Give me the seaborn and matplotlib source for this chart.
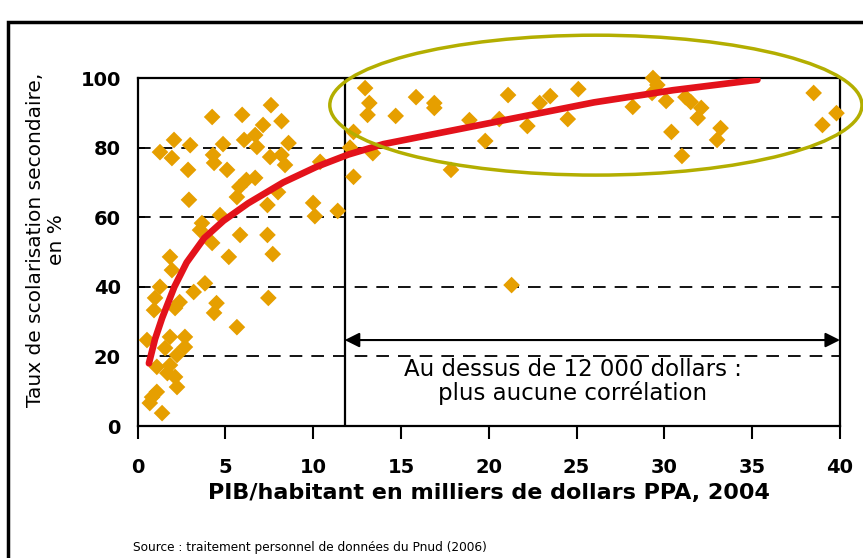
import matplotlib
matplotlib.use("Agg")
import matplotlib.pyplot as plt
from matplotlib.patches import Ellipse, Rectangle
import seaborn as sns

# GDP per head (thousands of PPP dollars, 2004) and secondary school enrolment (%)
gdp = [4.25, 5.96, 2.08, 3.0, 4.87, 1.28, 1.96, 4.3, 4.36, 5.1, 2.88, 6.07, 6.2,
       5.8, 5.66, 2.93, 4.7, 3.67, 3.56, 5.84, 4.25, 1.85, 5.2,
       7.6, 8.2, 7.15, 6.7, 8.6, 6.8, 7.55, 8.2, 8.4, 10.4, 6.7, 8.0, 7.4, 10.0,
       10.1, 11.4, 7.4, 7.7, 7.45,
       1.96, 1.28, 3.84, 3.2, 1.0, 2.4, 2.14, 0.94, 4.5, 4.36, 5.66, 0.54, 1.85,
       2.7, 2.7, 1.57, 2.25, 1.1, 1.85, 1.7, 2.14, 2.25, 1.1, 0.83, 0.7, 1.4,
       12.3, 12.1, 12.3, 13.4, 12.96, 13.2, 13.1, 14.7, 15.86, 16.9, 16.9, 18.9,
       19.8, 17.85, 20.6, 21.1, 22.2, 22.9, 23.5, 24.5, 25.1, 29.35, 29.6, 29.3,
       28.2, 30.1, 31.2, 31.5, 32.1, 31.9, 30.4, 33.2, 33.0, 31.0, 38.5, 39.8,
       39.0, 21.3]
enrol = [88.8, 89.4, 82.2, 80.7, 81.0, 78.7, 77.0, 77.9, 75.6, 73.6, 73.6, 82.2, 70.7,
         68.7, 65.8, 65.0, 60.6, 58.3, 56.3, 54.9, 52.6, 48.6, 48.6,
         92.2, 87.6, 86.5, 83.6, 81.3, 80.2, 77.3, 77.9, 75.0, 75.9, 71.3, 67.2, 63.5, 64.1,
         60.3, 61.8, 54.9, 49.4, 36.8,
         44.8, 40.0, 41.0, 38.5, 36.8, 35.6, 33.9, 33.3, 35.3, 32.5, 28.4, 24.7, 25.6,
         25.6, 22.7, 22.4, 20.4, 17.0, 17.5, 15.2, 14.1, 11.2, 9.8, 8.3, 6.6, 3.7,
         84.5, 80.0, 71.6, 78.4, 97.1, 92.8, 89.4, 89.1, 94.5, 92.8, 91.4, 87.9,
         81.9, 73.6, 88.2, 95.1, 86.2, 92.8, 94.8, 88.2, 96.8, 100.0, 98.0, 95.7,
         91.7, 93.4, 94.5, 93.1, 91.4, 88.5, 84.5, 85.6, 82.2, 77.6, 95.7, 89.9,
         86.5, 40.5]

# trend curve
trend_x = [0.65, 1.0, 1.4, 2.1, 2.8, 3.8, 4.9, 6.3, 8.3, 10.2, 12.0, 14.0, 19.0, 26.0, 30.5, 35.3]
trend_y = [18, 25, 31, 40, 47, 54, 59, 64, 70, 74.5, 78, 81, 86, 93, 96.5, 99.5]

x_ticks = [0, 5, 10, 15, 20, 25, 30, 35, 40]
y_ticks = [0, 20, 40, 60, 80, 100]
threshold = 11.8

sns.set_style("white")
plt.rcParams["font.family"] = ["DejaVu Sans"]
plt.rcParams.update({"text.color": "black", "axes.labelcolor": "black",
                     "xtick.color": "black", "ytick.color": "black"})

W, H = 863, 558
fig = plt.figure(figsize=(W / 100, H / 100), dpi=100)
ax = fig.add_axes([137.5 / W, 1 - 426 / H, (840 - 137.5) / W, (426 - 78) / H])

for y in [20, 40, 60, 80]:
    ax.axhline(y, color="black", lw=1.3, ls=(0, (7, 5)), zorder=1)
ax.axvline(threshold, color="black", lw=1.6, zorder=1)

sns.scatterplot(x=gdp, y=enrol, marker="D", color="#E69F00", s=72,
                edgecolor="none", ax=ax, clip_on=False, zorder=3)
sns.lineplot(x=trend_x, y=trend_y, color="#E3121B", lw=4.8, ax=ax,
             sort=False, zorder=4)

ax.add_patch(Ellipse((26.1, 92.2), 30.3, 40.2, fill=False, ec="#B3AE00",
                     lw=2.5, clip_on=False, zorder=5))

ax.annotate("", xy=(threshold, 24.7), xytext=(40, 24.7),
            arrowprops=dict(arrowstyle="<|-|>", color="black", lw=1.5,
                            mutation_scale=22, shrinkA=0, shrinkB=0))
ax.text(24.8, 12.8, "Au dessus de 12 000 dollars :\nplus aucune corrélation",
        ha="center", va="center", fontsize=16.5, linespacing=1.0)

ax.set_xlim(0, 40)
ax.set_ylim(0, 100)
ax.set_xticks(x_ticks)
ax.set_yticks(y_ticks)
ax.tick_params(axis="x", direction="out", length=9, width=1.5, pad=14,
               labelsize=14, bottom=True)
ax.tick_params(axis="y", direction="in", length=5, width=1.3, pad=12,
               labelsize=14, left=True)
for lab in ax.get_xticklabels() + ax.get_yticklabels():
    lab.set_fontweight("bold")
for s in ax.spines.values():
    s.set_color("black")
    s.set_linewidth(1.6)

ax.set_xlabel("PIB/habitant en milliers de dollars PPA, 2004",
              fontsize=16, fontweight="bold", labelpad=4)
fig.text(46 / W, 1 - 240 / H, "Taux de scolarisation secondaire,\nen %",
         rotation=90, ha="center", va="center", fontsize=14.5,
         multialignment="center", linespacing=1.1)
fig.text(133 / W, 1 - 548 / H,
         "Source : traitement personnel de données du Pnud (2006)",
         ha="left", va="center", fontsize=8.7)

fig.add_artist(Rectangle((8 / W, -0.1), 1.2, 1 - 22 / H + 0.1,
                         transform=fig.transFigure, fill=False,
                         ec="black", lw=2.5))

fig.savefig("out.png", dpi=100)
